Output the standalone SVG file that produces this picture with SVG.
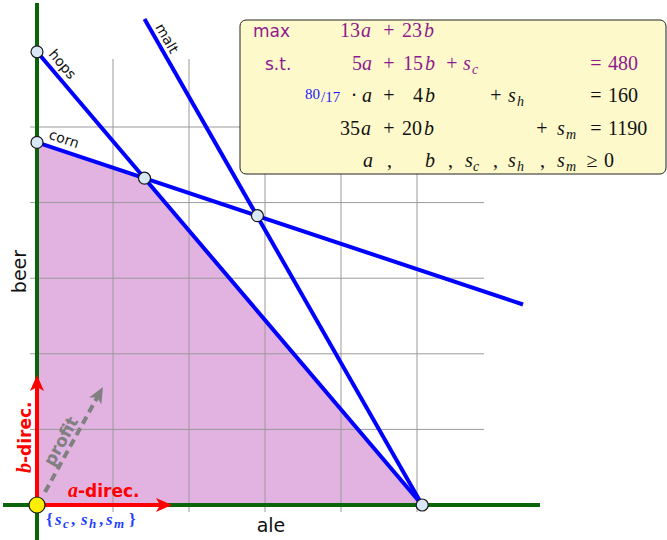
<svg xmlns="http://www.w3.org/2000/svg" width="667" height="540" viewBox="0 0 667 540">
<style>
.grid{stroke:#9a9a9a;stroke-width:1;fill:none}
.axis{stroke:#0a640a;stroke-width:4;fill:none}
.con{stroke:#0000ff;stroke-width:4;fill:none;stroke-linecap:butt}
.pt{fill:#d8e8f6;stroke:#1a1a1a;stroke-width:1.2}
.lbl{font-family:"DejaVu Sans",sans-serif;font-size:14px;fill:#111}
.ax{font-family:"DejaVu Sans",sans-serif;font-size:19px;fill:#111}
.m{font-family:"Liberation Serif",serif;font-size:20px;fill:#111}
.i{font-style:italic}
.sub{font-size:14px}
.pu{fill:#8e1a8e}
.sans{font-family:"DejaVu Sans",sans-serif;font-size:17px}
.dir{font-family:"DejaVu Sans",sans-serif;font-size:17px;font-weight:bold;fill:#ff0000}
.red{stroke:#ff0000;stroke-width:4;fill:none}
</style>
<defs>
<marker id="arR" markerUnits="userSpaceOnUse" markerWidth="18" markerHeight="16" refX="8" refY="8" orient="auto"><path d="M0,1 L16,8 L0,15 L4,8 z" fill="#ff0000"/></marker>
<marker id="arG" markerUnits="userSpaceOnUse" markerWidth="18" markerHeight="16" refX="8" refY="8" orient="auto"><path d="M0,1 L16,8 L0,15 L4,8 z" fill="#808080"/></marker>
</defs>
<rect width="667" height="540" fill="#ffffff"/>
<g id="feasible"><polygon points="37,505 37,142.4 144.5,178.2 422.2,505" fill="#e2b2e1"/></g>
<g id="grid" class="grid">
<path d="M113,59V512M189,59V512M265,59V512M341,59V512M417,59V512"/>
<path d="M30,429.4H484M30,353.8H484M30,278.2H484M30,202.6H484M30,127H484"/>
</g>
<g id="axes" class="axis">
<path d="M37,3V540"/>
<path d="M3,505H540"/>
</g>
<g id="connectors">
<path id="hops-line" class="con" d="M37,51.8L422.2,505"/>
<path id="corn-line" class="con" d="M37,142.4L523,304.5"/>
<path id="malt-line" class="con" d="M144.5,19L422.2,505"/>
<path id="b-arrow" class="red" d="M37,505V383" marker-end="url(#arR)"/>
<path id="a-arrow" class="red" d="M37,505H164" marker-end="url(#arR)"/>
<path id="profit-arrow" d="M45,492L99.1,394" stroke="#808080" stroke-width="4" stroke-dasharray="8,5" fill="none" marker-end="url(#arG)"/>
</g>
<g id="labels">
<text class="lbl" transform="translate(48,54.5) rotate(49.6)">hops</text>
<text class="lbl" transform="translate(48,138.6) rotate(18.3)">corn</text>
<text class="lbl" transform="translate(155,27) rotate(60.3)">malt</text>
<text class="ax" transform="translate(26,271.5) rotate(-90)" text-anchor="middle">beer</text>
<text class="ax" x="271" y="532" text-anchor="middle">ale</text>
<text x="68" y="497"><tspan font-family="Liberation Serif,serif" font-style="italic" font-weight="bold" font-size="20" fill="#ff0000">a</tspan><tspan class="dir">-direc.</tspan></text>
<text transform="translate(31,473) rotate(-90)"><tspan font-family="Liberation Serif,serif" font-style="italic" font-weight="bold" font-size="20" fill="#ff0000">b</tspan><tspan class="dir">-direc.</tspan></text>
<text transform="translate(66,444) rotate(-61.1)" text-anchor="middle" font-family="DejaVu Sans,sans-serif" font-size="17" font-weight="bold" fill="#808080">profit</text>
<g font-family="Liberation Serif,serif" font-weight="bold" font-size="17" fill="#1f3fff">
<text x="46" y="525">{</text>
<text x="55" y="525" font-style="italic">s</text>
<text x="63" y="528" font-style="italic" font-size="13">c</text>
<text x="71" y="525">,</text>
<text x="81" y="525" font-style="italic">s</text>
<text x="89" y="528" font-style="italic" font-size="13">h</text>
<text x="99" y="525">,</text>
<text x="106" y="525" font-style="italic">s</text>
<text x="114" y="528" font-style="italic" font-size="13">m</text>
<text x="129" y="525">}</text>
</g>
</g>
<g id="vertices">
<circle id="v-hops" class="pt" cx="37" cy="51.8" r="6"/>
<circle id="v-corn" class="pt" cx="37" cy="142.4" r="6"/>
<circle id="v-ch" class="pt" cx="144.5" cy="178.2" r="6"/>
<circle id="v-cm" class="pt" cx="257.4" cy="215.7" r="6"/>
<circle id="v-a" class="pt" cx="422.2" cy="505" r="6"/>
<circle id="v-origin" cx="37" cy="505" r="8" fill="#ffee00" stroke="#1a1a1a" stroke-width="1.2"/>
</g>
<g id="lp-box">
<rect x="240" y="20" width="426" height="154" rx="6" fill="#fef9cb" stroke="#222" stroke-width="1"/>
<g class="m pu">
<text class="sans pu" x="253" y="37">max</text>
<text x="340" y="37">13</text><text class="i" x="361" y="37">a</text><text x="389" y="37" text-anchor="middle">+</text><text x="402" y="37">23</text><text class="i" x="424" y="37">b</text>
<text class="sans pu" x="265" y="70">s.t.</text>
<text x="352" y="70">5</text><text class="i" x="362" y="70">a</text><text x="389" y="70" text-anchor="middle">+</text><text x="403" y="70">15</text><text class="i" x="425" y="70">b</text><text x="452" y="70" text-anchor="middle">+</text><text class="i" x="463" y="70">s</text><text class="i sub" x="472" y="74">c</text>
<text x="596" y="70" text-anchor="middle">=</text><text x="608" y="70">480</text>
</g>
<g class="m">
<text x="305" y="99" font-size="15" fill="#1a1aff">80</text><text x="321" y="102" font-size="15" fill="#1a1aff">/17</text>
<text x="354" y="102" text-anchor="middle">·</text><text class="i" x="362" y="102">a</text><text x="389" y="102" text-anchor="middle">+</text><text x="413" y="102">4</text><text class="i" x="425" y="102">b</text><text x="496" y="102" text-anchor="middle">+</text><text class="i" x="508" y="102">s</text><text class="i sub" x="517" y="106">h</text>
<text x="596" y="102" text-anchor="middle">=</text><text x="608" y="102">160</text>
<text x="340" y="135">35</text><text class="i" x="361" y="135">a</text><text x="389" y="135" text-anchor="middle">+</text><text x="402" y="135">20</text><text class="i" x="424" y="135">b</text><text x="542" y="135" text-anchor="middle">+</text><text class="i" x="557" y="135">s</text><text class="i sub" x="566" y="139">m</text>
<text x="596" y="135" text-anchor="middle">=</text><text x="608" y="135">1190</text>
<text class="i" x="363" y="167">a</text><text x="387" y="167">,</text><text class="i" x="425" y="167">b</text><text x="448" y="167">,</text><text class="i" x="465" y="167">s</text><text class="i sub" x="473" y="171">c</text><text x="493" y="167">,</text><text class="i" x="508" y="167">s</text><text class="i sub" x="517" y="171">h</text><text x="540" y="167">,</text><text class="i" x="557" y="167">s</text><text class="i sub" x="566" y="171">m</text>
<text x="592" y="167" text-anchor="middle">≥</text><text x="604" y="167">0</text>
</g>
</g>
</svg>
